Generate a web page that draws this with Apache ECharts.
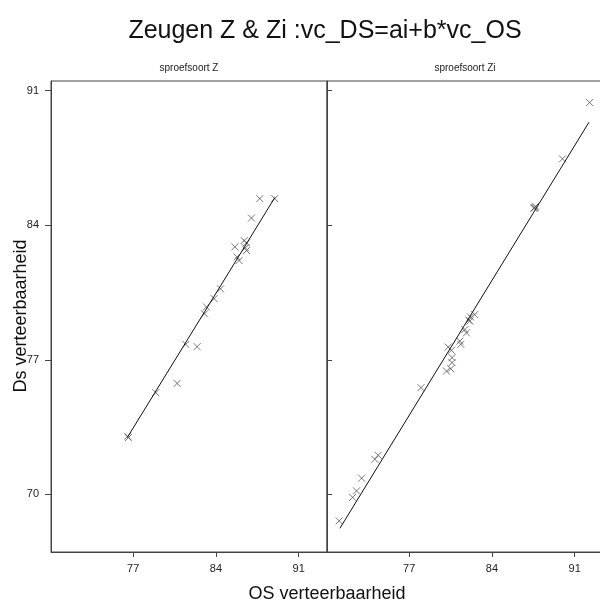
<!DOCTYPE html>
<html><head><meta charset="utf-8">
<script src="https://cdn.jsdelivr.net/npm/echarts@6/dist/echarts.min.js"></script>
<style>html,body{margin:0;padding:0;background:#fff}#c{width:600px;height:605px}</style>
</head><body><div id="c"></div>
<script>
// ---- data ----
const panelTitles = ['sproefsoort Z', 'sproefsoort Zi'];
const tickValues = [70, 77, 84, 91];
const xTickValues = [77, 84, 91];
// panel Z: OS (x) and DS (y)
const zOS = [87.71, 88.98, 87.01, 86.39, 86.59, 85.60, 86.50, 86.59, 85.79, 85.96, 84.39, 83.85, 83.20, 83.04, 81.45, 82.41, 80.72, 78.92, 76.53, 76.60];
const zDS = [85.38, 85.38, 84.37, 83.20, 83.08, 82.87, 82.82, 82.68, 82.35, 82.16, 80.69, 80.18, 79.75, 79.39, 77.80, 77.68, 75.77, 75.29, 73.02, 72.95];
// fitted line for Z (end points)
const zLineOS = [76.5, 89.0];
const zLineDS = [72.95, 85.45];
// panel Zi
const ziOS = [92.27, 89.97, 87.55, 87.63, 87.70, 87.60, 82.55, 82.19, 82.05, 82.13, 81.71, 81.85, 81.29, 81.37, 80.30, 80.58, 80.63, 80.63, 80.52, 80.16, 78.00, 74.10, 74.38, 72.98, 72.55, 72.22, 71.08];
const ziDS = [90.38, 87.45, 84.88, 84.93, 84.98, 84.90, 79.35, 79.23, 79.06, 79.01, 78.57, 78.40, 77.97, 77.80, 77.66, 77.49, 77.11, 76.85, 76.53, 76.41, 75.55, 71.82, 72.03, 70.84, 70.18, 69.84, 68.62];
const ziLineOS = [71.14, 92.22];
const ziLineDS = [68.23, 89.36];

const FONT = 'Liberation Sans, Arial, sans-serif';
const pts = (xs, ys) => xs.map((x, i) => [x, ys[i]]);
const cross = 'path://M0,0L10,10M10,0L0,10';

const chart = echarts.init(document.getElementById('c'), null, {renderer: 'canvas'});
const xAxisBase = (gi) => ({
  type: 'value', gridIndex: gi, min: 70.05, max: 93.4,
  axisLine: {show: true, onZero: false, lineStyle: {color: '#444', width: 1}},
  axisTick: {show: true, inside: false, length: 5, customValues: xTickValues, lineStyle: {color: '#444'}},
  axisLabel: {show: true, customValues: xTickValues, margin: 11, fontSize: 11, color: '#222', fontFamily: FONT},
  splitLine: {show: false}
});
const yAxisBase = (gi) => ({
  type: 'value', gridIndex: gi, min: 67.0, max: 91.5,
  axisLine: {show: true, onZero: false, lineStyle: {color: '#444', width: 1}},
  axisTick: {show: true, inside: gi === 1, length: gi === 1 ? 5 : 6, customValues: tickValues, lineStyle: {color: '#444'}},
  axisLabel: {show: gi === 0, customValues: tickValues, margin: 12, fontSize: 11, color: '#222', fontFamily: FONT},
  splitLine: {show: false}
});
const scatterStyle = {color: 'transparent', borderColor: '#555', borderWidth: 1};

chart.setOption({
  animation: false,
  backgroundColor: '#fff',
  title: {
    text: 'Zeugen Z & Zi :vc_DS=ai+b*vc_OS',
    left: 320, top: 14, textAlign: 'center',
    textStyle: {fontSize: 25, fontWeight: 'normal', color: '#111', fontFamily: FONT}
  },
  grid: [
    {left: 51, top: 81, width: 276, height: 471, show: true, borderColor: '#444', borderWidth: 1, backgroundColor: 'transparent', outerBoundsMode: 'none', containLabel: false},
    {left: 327, top: 81, width: 276, height: 471, show: true, borderColor: '#444', borderWidth: 1, backgroundColor: 'transparent', outerBoundsMode: 'none', containLabel: false}
  ],
  xAxis: [xAxisBase(0), xAxisBase(1)],
  yAxis: [yAxisBase(0), yAxisBase(1)],
  graphic: [
    {type: 'text', x: 189, y: 68, style: {text: panelTitles[0], fill: '#222', font: '10px ' + FONT, textAlign: 'center', textVerticalAlign: 'middle'}},
    {type: 'text', x: 465, y: 68, style: {text: panelTitles[1], fill: '#222', font: '10px ' + FONT, textAlign: 'center', textVerticalAlign: 'middle'}},
    {type: 'text', x: 327, y: 594, style: {text: 'OS verteerbaarheid', font: '18px ' + FONT, fill: '#111', textAlign: 'center', textVerticalAlign: 'middle'}},
    {type: 'text', x: 21, y: 316, rotation: Math.PI / 2, style: {text: 'Ds verteerbaarheid', font: '18px ' + FONT, fill: '#111', textAlign: 'center', textVerticalAlign: 'middle'}}
  ],
  series: [
    {type: 'line', xAxisIndex: 0, yAxisIndex: 0, data: pts(zLineOS, zLineDS), showSymbol: false, lineStyle: {color: '#111', width: 1}, silent: true},
    {type: 'scatter', xAxisIndex: 0, yAxisIndex: 0, data: pts(zOS, zDS), symbol: cross, symbolSize: 7, itemStyle: scatterStyle},
    {type: 'line', xAxisIndex: 1, yAxisIndex: 1, data: pts(ziLineOS, ziLineDS), showSymbol: false, lineStyle: {color: '#111', width: 1}, silent: true},
    {type: 'scatter', xAxisIndex: 1, yAxisIndex: 1, data: pts(ziOS, ziDS), symbol: cross, symbolSize: 7, itemStyle: scatterStyle}
  ]
});
</script></body></html>
